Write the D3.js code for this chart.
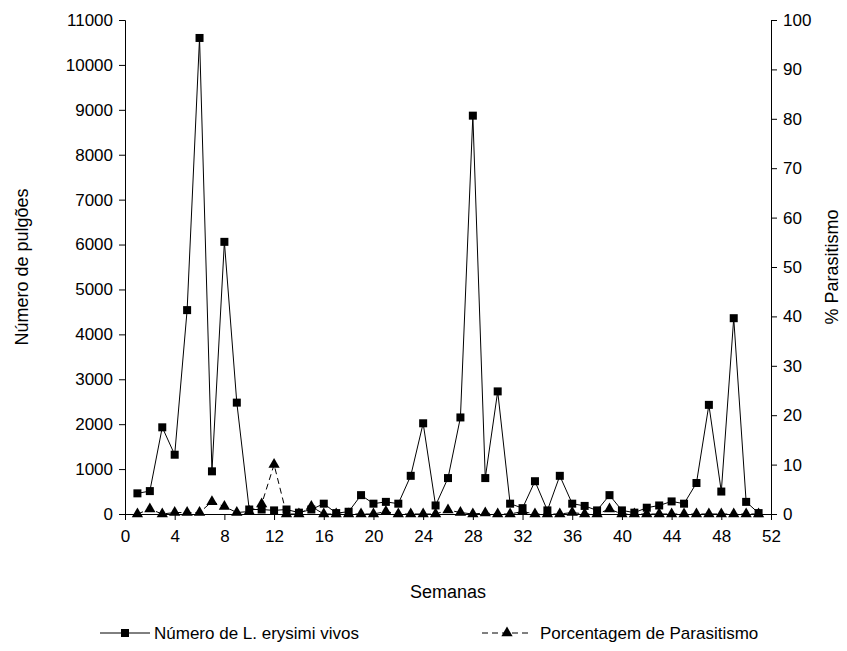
<!DOCTYPE html><html><head><script src="https://cdn.jsdelivr.net/npm/d3@7"></script>
<style>body{margin:0;background:#fff}text{font-family:Arial,"Liberation Sans",sans-serif}</style></head><body>
<svg id="c" width="847" height="651"></svg>
<script>
const weeks=d3.range(1,52);
const aphids=[460,510,1930,1320,4540,10600,950,6060,2480,100,100,80,100,30,100,230,20,50,420,230,270,230,850,2020,190,800,2150,8870,800,2730,230,130,730,80,850,230,180,80,420,80,30,140,190,280,230,690,2430,500,4360,270,20];
const parasit=[0,1,0,0.3,0.3,0.3,2.5,1.5,0.3,0.5,2,10,0,0,1.5,0,0,0,0,0,0.5,0,0,0,0,0.8,0.3,0,0.2,0,0,0.5,0,0,0,0.3,0,0,1,0,0,0,0,0,0,0,0,0,0,0,0];
const xTicks=d3.range(0,53,4);
const svg=d3.select("#c");
const L=125,R=771,T=20,B=514;
const x=d3.scaleLinear().domain([0,52]).range([L,R]);
const y=d3.scaleLinear().domain([0,11000]).range([B,T]);
const y2=d3.scaleLinear().domain([0,100]).range([B,T]);
const fs="17px";
const gx=svg.append("g").attr("transform",`translate(0,${B})`).call(d3.axisBottom(x).tickValues(xTicks).tickSizeOuter(0).tickSize(6).tickFormat(d3.format("d")));
const gl=svg.append("g").attr("transform",`translate(${L},0)`).call(d3.axisLeft(y).tickValues(d3.range(0,11001,1000)).tickSizeOuter(0).tickSize(6).tickFormat(d3.format("d")));
const gr=svg.append("g").attr("transform",`translate(${R},0)`).call(d3.axisRight(y2).tickValues(d3.range(0,101,10)).tickSizeOuter(0).tickSize(6).tickFormat(d3.format("d")));
[gx,gl,gr].forEach(g=>{g.selectAll("text").style("font-size",fs).attr("fill","#000");g.selectAll("line,path").attr("stroke","#000");});
gx.selectAll("text").attr("dy","1.1em");
gl.selectAll("text").attr("x",-12);gr.selectAll("text").attr("x",12);
svg.append("text").attr("x",(L+R)/2).attr("y",598).attr("text-anchor","middle").style("font-size","18px").text("Semanas");
svg.append("text").attr("transform",`translate(28,${(T+B)/2}) rotate(-90)`).attr("text-anchor","middle").style("font-size","18px").text("Número de pulgões");
svg.append("text").attr("transform",`translate(843,${(T+B)/2}) rotate(-90)`).attr("text-anchor","middle").attr("dy","-0.3em").style("font-size","18px").text("% Parasitismo");
const l1=d3.line().x((d,i)=>x(weeks[i])).y(d=>y(d));
const l2=d3.line().x((d,i)=>x(weeks[i])).y(d=>y2(d));
svg.append("path").attr("d",l2(parasit)).attr("fill","none").attr("stroke","#000").attr("stroke-dasharray","6,4");
svg.append("path").attr("d",l1(aphids)).attr("fill","none").attr("stroke","#000");
const tri=d3.symbol().type(d3.symbolTriangle).size(55);
svg.selectAll(".t").data(parasit).join("path").attr("d",tri).attr("transform",(d,i)=>`translate(${x(weeks[i])},${y2(d)})`);
svg.selectAll(".s").data(aphids).join("rect").attr("x",(d,i)=>x(weeks[i])-4).attr("y",d=>y(d)-4).attr("width",8).attr("height",8);
const ly=633;
svg.append("line").attr("x1",100).attr("x2",150).attr("y1",ly).attr("y2",ly).attr("stroke","#000");
svg.append("rect").attr("x",121).attr("y",ly-4).attr("width",8).attr("height",8);
svg.append("text").attr("x",154).attr("y",ly+6).style("font-size","17px").text("Número de L. erysimi vivos");
svg.append("line").attr("x1",482).attr("x2",532).attr("y1",ly).attr("y2",ly).attr("stroke","#000").attr("stroke-dasharray","6,4");
svg.append("path").attr("d",tri).attr("transform",`translate(507,${ly})`);
svg.append("text").attr("x",540).attr("y",ly+6).style("font-size","17px").text("Porcentagem de Parasitismo");
</script></body></html>
